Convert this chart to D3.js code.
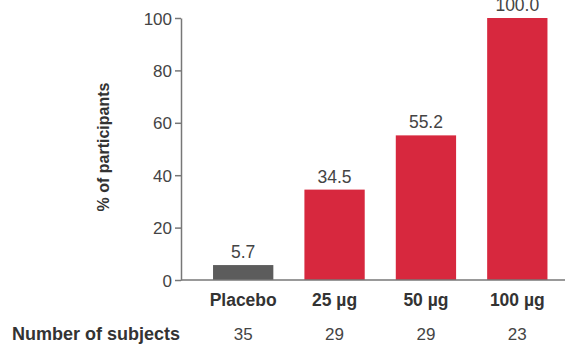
<!DOCTYPE html>
<html><head><meta charset="utf-8">
<script src="https://cdn.jsdelivr.net/npm/d3@7"></script>
<style>body{margin:0;background:#fff}svg{display:block}</style>
</head><body>
<script>
const categories = ["Placebo", "25 µg", "50 µg", "100 µg"];
const values = [5.7, 34.5, 55.2, 100.0];
const subjects = ["35", "29", "29", "23"];
const yTicks = [0, 20, 40, 60, 80, 100];
const barColors = ["#5c5c5c", "#d7283e", "#d7283e", "#d7283e"];

const W = 565, H = 349;
const svg = d3.select("body").append("svg").attr("width", W).attr("height", H);
const font = "Liberation Sans, Arial, sans-serif";

const x = d3.scaleBand().domain(categories).range([197.5, 563]).paddingInner(0.34).paddingOuter(0.17);
const y = d3.scaleLinear().domain([0, 100]).range([280, 18]);

// y axis
const yAxis = svg.append("g").attr("transform", "translate(181,0)")
  .call(d3.axisLeft(y).tickValues(yTicks).tickSize(6).tickPadding(3).tickSizeOuter(0));
yAxis.select(".domain").attr("stroke", "#777").attr("stroke-width", 1.5);
yAxis.selectAll(".tick line").attr("stroke", "#777").attr("stroke-width", 1.5);
yAxis.selectAll(".tick text").attr("fill", "#444").attr("font-family", font).attr("font-size", 17).attr("dy", "0.36em");

// bars
svg.selectAll("rect.bar").data(values).enter().append("rect")
  .attr("class", "bar")
  .attr("x", (d, i) => x(categories[i]))
  .attr("width", x.bandwidth())
  .attr("y", d => y(d))
  .attr("height", d => y(0) - y(d))
  .attr("fill", (d, i) => barColors[i]);

// x baseline
svg.append("line").attr("x1", 181).attr("x2", W).attr("y1", y(0)).attr("y2", y(0))
  .attr("stroke", "#777").attr("stroke-width", 1.5);

// value labels
svg.selectAll("text.val").data(values).enter().append("text")
  .attr("class", "val")
  .attr("x", (d, i) => x(categories[i]) + x.bandwidth() / 2)
  .attr("y", d => y(d) - 7)
  .attr("text-anchor", "middle")
  .attr("font-family", font).attr("font-size", 17.5).attr("fill", "#444")
  .text(d => d.toFixed(1));

// category labels
svg.selectAll("text.cat").data(categories).enter().append("text")
  .attr("class", "cat")
  .attr("x", d => x(d) + x.bandwidth() / 2)
  .attr("y", 306)
  .attr("text-anchor", "middle")
  .attr("font-family", font).attr("font-size", 17.5).attr("font-weight", "bold").attr("fill", "#333")
  .text(d => d);

// subjects row
svg.append("text").attr("x", 12).attr("y", 340)
  .attr("font-family", font).attr("font-size", 18).attr("font-weight", "bold").attr("fill", "#333")
  .text("Number of subjects");
svg.selectAll("text.sub").data(subjects).enter().append("text")
  .attr("class", "sub")
  .attr("x", (d, i) => x(categories[i]) + x.bandwidth() / 2)
  .attr("y", 340)
  .attr("text-anchor", "middle")
  .attr("font-family", font).attr("font-size", 17).attr("fill", "#444")
  .text(d => d);

// y title
svg.append("text")
  .attr("transform", "translate(109,147) rotate(-90)")
  .attr("text-anchor", "middle")
  .attr("font-family", font).attr("font-size", 16).attr("font-weight", "bold").attr("fill", "#333")
  .text("% of participants");
</script>
</body></html>
